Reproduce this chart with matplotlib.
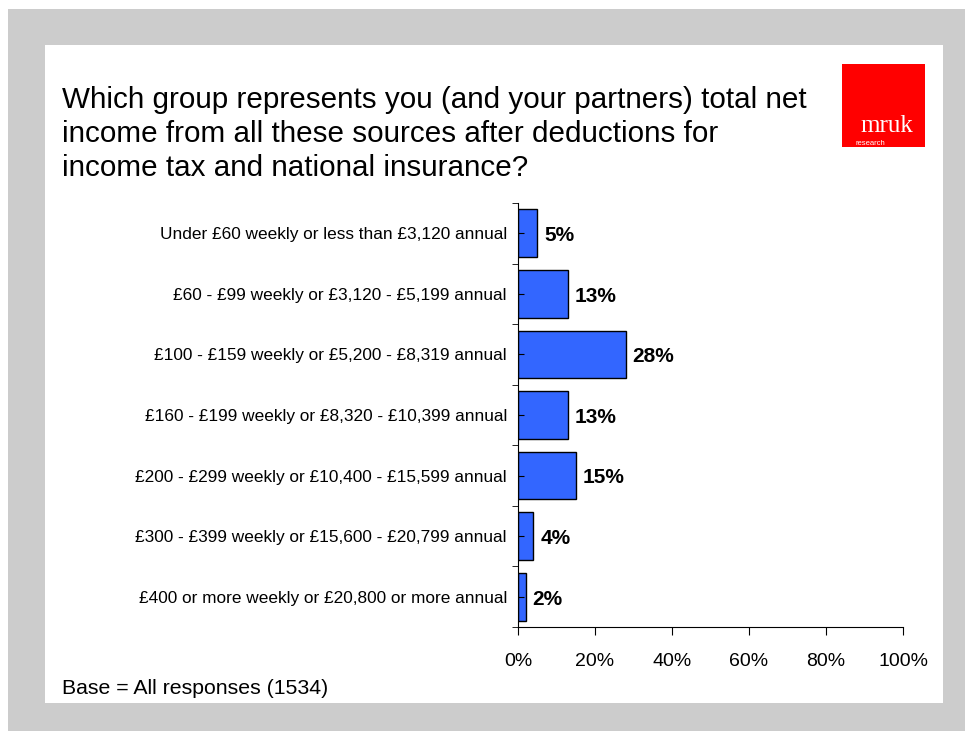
import matplotlib
matplotlib.use('Agg')
import matplotlib.pyplot as plt
from matplotlib.patches import Rectangle

categories = [
    'Under £60 weekly or less than £3,120 annual',
    '£60 - £99 weekly or £3,120 - £5,199 annual',
    '£100 - £159 weekly or £5,200 - £8,319 annual',
    '£160 - £199 weekly or £8,320 - £10,399 annual',
    '£200 - £299 weekly or £10,400 - £15,599 annual',
    '£300 - £399 weekly or £15,600 - £20,799 annual',
    '£400 or more weekly or £20,800 or more annual',
]
values = [5, 13, 28, 13, 15, 4, 2]
x_ticks = [0, 20, 40, 60, 80, 100]

title = ('Which group represents you (and your partners) total net\n'
         'income from all these sources after deductions for\n'
         'income tax and national insurance?')
base_note = 'Base = All responses (1534)'

W, H = 965, 731
plt.rcParams['font.family'] = ['Liberation Sans', 'DejaVu Sans']

fig = plt.figure(figsize=(W / 100, H / 100), dpi=100, facecolor='white')


def px_rect(x0, y0, x1, y1, **kw):
    # rectangle given in pixel coords measured from the top-left corner
    r = Rectangle((x0 / W, 1 - y1 / H), (x1 - x0) / W, (y1 - y0) / H,
                  transform=fig.transFigure, **kw)
    fig.add_artist(r)
    return r


# grey frame and white slide area
px_rect(8, 9, W, H, facecolor='#cccccc', edgecolor='none', zorder=0)
px_rect(45, 45, 943, 703, facecolor='white', edgecolor='none', zorder=0)

# logo
px_rect(842, 64, 925, 147, facecolor='#ff0000', edgecolor='none', zorder=1)
fig.text(887 / W, 1 - 132 / H, 'mruk', color='white', fontsize=18,
         family='Liberation Serif', ha='center', va='baseline', zorder=2)
fig.text(855 / W, 1 - 145 / H, 'research', color='white', fontsize=5.5,
         ha='left', va='baseline', zorder=2)

fig.text(62 / W, 1 - 134 / H, title, fontsize=21.3, ha='left', va='center',
         linespacing=1.25, zorder=2)
fig.text(62 / W, 1 - 688 / H, base_note, fontsize=15.3, ha='left',
         va='center', zorder=2)

ax = fig.add_axes([518 / W, 1 - 627 / H, (903 - 518) / W, (627 - 203) / H])
ax.set_facecolor('none')
ypos = list(range(len(categories)))
ax.barh(ypos, values, height=0.79, color='#3366ff', edgecolor='black',
        linewidth=1)
for y, v in zip(ypos, values):
    ax.text(v + 1.8, y + 0.04, f'{v}%', fontsize=15, fontweight='bold',
            ha='left', va='center')

ax.set_xlim(0, 100)
ax.set_ylim(len(categories) - 0.5, -0.5)
ax.set_xticks(x_ticks)
ax.set_xticklabels([f'{t}%' for t in x_ticks], fontsize=14)
ax.set_yticks(ypos)
ax.set_yticklabels(categories, fontsize=12.4)
ax.set_yticks([i - 0.5 for i in range(len(categories) + 1)], minor=True)
ax.tick_params(axis='y', which='major', direction='in', length=4, pad=8)
ax.tick_params(axis='y', which='minor', direction='out', length=4)
ax.tick_params(axis='x', which='major', direction='out', length=6, pad=13)
for side in ('top', 'right'):
    ax.spines[side].set_visible(False)

fig.savefig('out.png', dpi=100, facecolor='white')
